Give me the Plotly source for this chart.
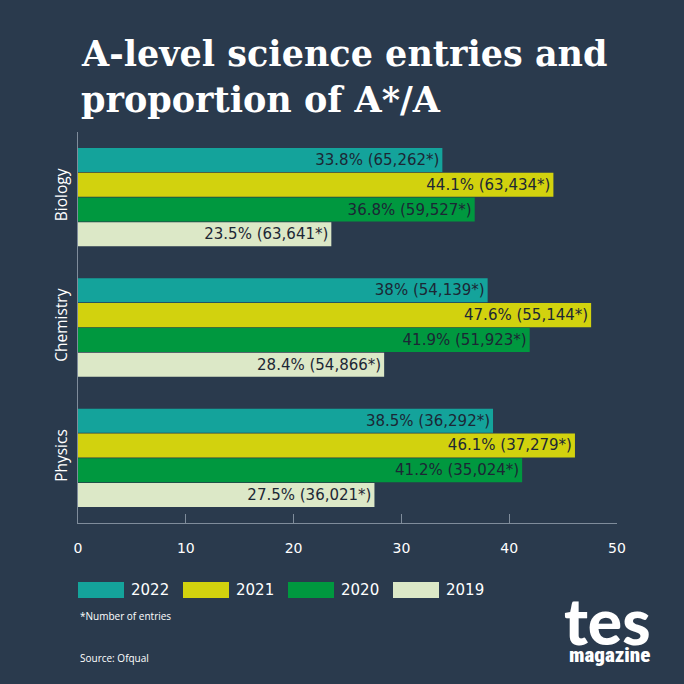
import plotly.graph_objects as go

subjects = ["Biology", "Chemistry", "Physics"]
years = ["2022", "2021", "2020", "2019"]
colors = ["#14a39b", "#d2d20e", "#00983f", "#dce8c7"]
pct = {
    "2022": [33.8, 38, 38.5],
    "2021": [44.1, 47.6, 46.1],
    "2020": [36.8, 41.9, 41.2],
    "2019": [23.5, 28.4, 27.5],
}
entries = {
    "2022": [65262, 54139, 36292],
    "2021": [63434, 55144, 37279],
    "2020": [59527, 51923, 35024],
    "2019": [63641, 54866, 36021],
}
x_ticks = [0, 10, 20, 30, 40, 50]

BG = "#2a3a4d"
TXT = "#1c2735"
AX = "#7f8c9b"
FONT = "DejaVu Sans"

fig = go.Figure()
for yr, col in zip(years, colors):
    labels = [f"{p:g}% ({e:,}*)" for p, e in zip(pct[yr], entries[yr])]
    fig.add_trace(go.Bar(
        y=subjects, x=pct[yr], orientation="h", name=yr,
        marker=dict(color=col, line=dict(width=0)),
        text=labels, textposition="inside", insidetextanchor="end",
        textangle=0, insidetextfont=dict(color=TXT, size=15, family=FONT),
        showlegend=False, hoverinfo="skip",
    ))

W = 684
fig.update_layout(
    width=W, height=W,
    paper_bgcolor=BG, plot_bgcolor=BG,
    margin=dict(l=78, r=67, t=132, b=161),
    barmode="group", bargap=0.24, bargroupgap=0.03,
    uniformtext=dict(minsize=15, mode="show"),
    font=dict(family=FONT, color="white"),
)
fig.update_xaxes(
    range=[0, 50], tickvals=x_ticks, showgrid=False, zeroline=False,
    showline=True, linecolor=AX, linewidth=1,
    ticks="inside", ticklen=9, tickcolor=AX, tickwidth=1,
    tickfont=dict(size=14, color="white", family=FONT),
    ticklabelstandoff=12,
)
fig.update_yaxes(
    autorange="reversed", showgrid=False, zeroline=False,
    showline=True, linecolor=AX, linewidth=1, ticks="",
    tickangle=-90, tickfont=dict(size=15.5, color="white", family="Open Sans"),
    ticklabelstandoff=4,
)

def px_x(p):
    return (p - 78) / 539

def px_y(p):
    return (523 - p) / 391

# Title
TFONT = dict(family="DejaVu Serif", size=35, color="white")
fig.add_annotation(text="<b>A-level science entries and</b>", xref="paper", yref="paper",
                   x=px_x(79), y=px_y(54), xanchor="left", yanchor="middle",
                   showarrow=False, font=TFONT)
fig.add_annotation(text="<b>proportion of A*/A</b>", xref="paper", yref="paper",
                   x=px_x(79), y=px_y(99), xanchor="left", yanchor="middle",
                   showarrow=False, font=TFONT)

# Custom legend
lx = [78, 183, 288, 393]
for xs, yr, col in zip(lx, years, colors):
    fig.add_shape(type="rect", xref="paper", yref="paper",
                  x0=px_x(xs), x1=px_x(xs + 46), y0=px_y(598), y1=px_y(582),
                  fillcolor=col, line=dict(width=0))
    fig.add_annotation(text=yr, xref="paper", yref="paper", x=px_x(xs + 51), y=px_y(590),
                       xanchor="left", yanchor="middle", showarrow=False,
                       font=dict(size=15, color="white", family=FONT))

fig.add_annotation(text="*Number of entries", xref="paper", yref="paper", x=px_x(78), y=px_y(616),
                   xanchor="left", yanchor="middle", showarrow=False,
                   font=dict(size=10, color="white", family="Open Sans"))
fig.add_annotation(text="Source: Ofqual", xref="paper", yref="paper", x=px_x(78), y=px_y(658),
                   xanchor="left", yanchor="middle", showarrow=False,
                   font=dict(size=10, color="white", family="Open Sans"))

# tes magazine logo
fig.add_annotation(text="tes", xref="paper", yref="paper", x=px_x(607), y=px_y(620),
                   xanchor="center", yanchor="middle", showarrow=False,
                   font=dict(size=64, color="white", family="Lato", weight=900))
fig.add_annotation(text="magazine", xref="paper", yref="paper", x=px_x(609), y=px_y(655),
                   xanchor="center", yanchor="middle", showarrow=False,
                   font=dict(size=21, color="white", family="Roboto Condensed, Roboto", weight=900))

fig.write_html("out.html", config={"displayModeBar": False},
               post_script="document.body.style.margin='0';document.body.style.background='%s';" % BG)
